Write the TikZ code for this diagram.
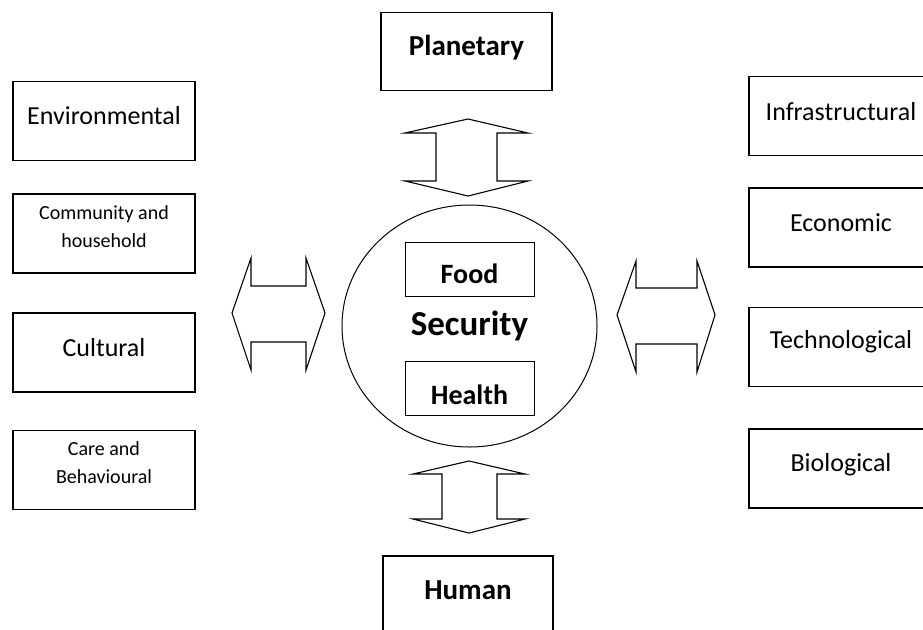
\documentclass[tikz,border=0pt]{standalone}
\usepackage{fontspec}
\setmainfont{Carlito}
\usetikzlibrary{shapes.geometric}
\newcommand{\raisetext}[2]{\raisebox{#1}[\height][\depth]{#2}}
\newcommand{\twolines}[2]{\raisetext{6pt}{\begin{tabular}{@{}c@{}}#1\\#2\end{tabular}}}
\tikzset{
    block/.style = {draw, rectangle, line width=1.3pt,
        minimum height=79pt,
        minimum width=182pt, align=center,
        font=\fontsize{26}{30}\selectfont},
    smallblock/.style = {block, font=\fontsize{20}{28}\selectfont},
    headblock/.style = {block, minimum width=171pt, minimum height=78pt,
        font=\fontsize{29}{34}\selectfont\bfseries},
    inblock/.style = {draw, rectangle, line width=1pt,
        minimum width=129pt, minimum height=54pt,
        font=\fontsize{28}{32}\selectfont\bfseries},
    twoway/.style = {draw, line width=1.1pt, line join=miter}
}

\begin{document}
\begin{tikzpicture}[x=1pt, y=-1pt]
        \useasboundingbox (0,0) rectangle (923,629);
        % centre
        \node [draw, ellipse, line width=1pt, minimum width=255pt, minimum height=242pt,
            font=\fontsize{35}{40}\selectfont\bfseries] (sec) at (469.5,326) {Security};
        \node [inblock] (food) at (469.5,269) {\raisetext{-5pt}{Food}};
        \node [inblock] (health) at (469.5,388.5) {\raisetext{-6pt}{Health}};
        \node [headblock] (planet) at (466.5,51.5) {\raisetext{4pt}{Planetary}};
        \node [headblock, minimum width=170pt] (human) at (468,595) {\raisetext{5pt}{Human}};
        % left side
        \node [block] (env) at (104,121) {\raisetext{5pt}{Environmental}};
        \node [smallblock] (comm) at (104,233.5) {\twolines{Community and}{household}};
        \node [block] (cult) at (104,352.5) {\raisetext{5pt}{Cultural}};
        \node [smallblock] (care) at (104,470) {\twolines{Care and}{Behavioural}};
        % right side
        \node [block, minimum width=184pt] (infra) at (841,116) {\raisetext{4pt}{Infrastructural}};
        \node [block, minimum width=184pt] (econ) at (841,227.5) {\raisetext{5pt}{Economic}};
        \node [block, minimum width=184pt] (tech) at (841,347) {\raisetext{5pt}{Technological}};
        \node [block, minimum width=184pt] (bio) at (841,468.5) {\raisetext{4pt}{Biological}};
        % double arrows
        \draw [twoway] (232,313) -- (251,258) -- (251,286) -- (306,286) -- (306,258) -- (325,313)
            -- (306,370) -- (306,342) -- (251,342) -- (251,370) -- cycle;
        \draw [twoway] (617,315) -- (636,261) -- (636,288) -- (697,288) -- (697,261) -- (715,315)
            -- (697,372) -- (697,344) -- (636,344) -- (636,372) -- cycle;
        \draw [twoway] (468,119) -- (528,133) -- (497,133) -- (497,181) -- (528,181) -- (468,196)
            -- (405,181) -- (436,181) -- (436,133) -- (405,133) -- cycle;
        \draw [twoway] (469,461) -- (525,474) -- (497,474) -- (497,519) -- (525,519) -- (469,533)
            -- (413,519) -- (442,519) -- (442,474) -- (413,474) -- cycle;
\end{tikzpicture}
\end{document}
